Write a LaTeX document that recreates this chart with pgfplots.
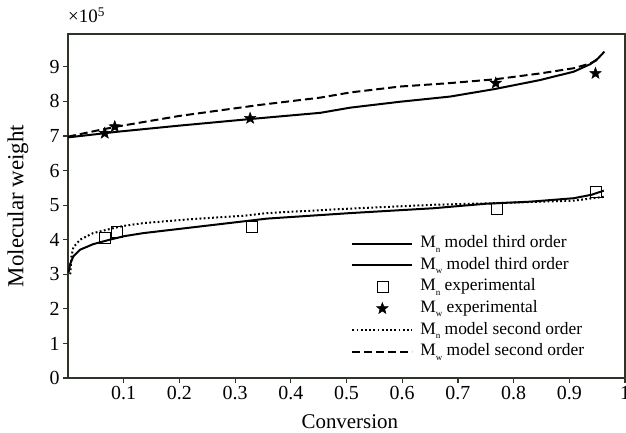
\documentclass[border=0pt]{standalone}
\usepackage{pgfplots}
\pgfplotsset{compat=1.18}
\usepackage{fontspec}
\setmainfont{Liberation Serif}
\definecolor{axc}{RGB}{45,52,40}
\newcommand{\sub}[1]{\raisebox{-0.55ex}{\fontsize{9}{9}\selectfont #1}}
\pgfplotsset{markleg/.style={legend image code/.code={\draw[##1] plot coordinates {(30bp,0bp)};}}}
\pgfdeclareplotmark{fstar}{%
  \pgfpathmoveto{\pgfpointpolar{90}{\pgfplotmarksize}}%
  \pgfpathlineto{\pgfpointpolar{126}{0.42\pgfplotmarksize}}%
  \pgfpathlineto{\pgfpointpolar{162}{\pgfplotmarksize}}%
  \pgfpathlineto{\pgfpointpolar{198}{0.42\pgfplotmarksize}}%
  \pgfpathlineto{\pgfpointpolar{234}{\pgfplotmarksize}}%
  \pgfpathlineto{\pgfpointpolar{270}{0.42\pgfplotmarksize}}%
  \pgfpathlineto{\pgfpointpolar{306}{\pgfplotmarksize}}%
  \pgfpathlineto{\pgfpointpolar{342}{0.42\pgfplotmarksize}}%
  \pgfpathlineto{\pgfpointpolar{18}{\pgfplotmarksize}}%
  \pgfpathlineto{\pgfpointpolar{54}{0.42\pgfplotmarksize}}%
  \pgfpathclose
  \pgfusepathqfillstroke}
\begin{document}
\begin{tikzpicture}
\begin{axis}[
  scale only axis, width=557bp, height=344bp,
  xmin=0, xmax=1, ymin=0, ymax=9.95,
  xtick={0.1,0.2,0.3,0.4,0.5,0.6,0.7,0.8,0.9,1},
  xticklabels={0.1,0.2,0.3,0.4,0.5,0.6,0.7,0.8,0.9,1},
  ytick={0,1,2,3,4,5,6,7,8,9},
  yticklabels={0,1,2,3,4,5,6,7,8,9},
  xtick pos=left, ytick pos=left,
  tick align=outside, major tick length=5bp,
  axis line style={axc, line width=1.6bp},
  every tick/.style={axc, line width=1.2bp},
  tick label style={font=\fontsize{20}{20}\selectfont},
  xlabel={Conversion}, ylabel={Molecular weight},
  xlabel style={font=\fontsize{21}{21}\selectfont, at={(axis description cs:0.506,-0.128)}, anchor=center},
  ylabel style={font=\fontsize{23}{23}\selectfont, at={(axis description cs:-0.09,0.5)}, anchor=center},
  legend cell align=left,
  legend style={draw=none, fill=none, at={(axis description cs:0.503,0.428)}, anchor=north west,
    font=\fontsize{17.5}{17.5}\selectfont, row sep=0pt,
    nodes={text height=12bp, text depth=4bp, inner ysep=2.8bp, inner xsep=3bp},
    /tikz/every odd column/.append style={column sep=4bp}},
  legend image code/.code={\draw[#1] plot coordinates {(0bp,0bp) (60bp,0bp)};},
]
% Mn model third order
\addplot[black, mark=none, solid, line width=2bp] coordinates {
(0.001,3.05) (0.004,3.3) (0.0096,3.52) (0.0216,3.71) (0.045,3.87) (0.075,4.0) (0.1,4.1)
(0.135,4.19) (0.225,4.36) (0.315,4.53) (0.357,4.61) (0.507,4.77) (0.656,4.91) (0.75,5.04)
(0.83,5.1) (0.908,5.2) (0.94,5.3) (0.962,5.42)};
\addlegendentry{M\sub{n} model third order}
% Mw model third order
\addplot[black, mark=none, solid, line width=2bp] coordinates {
(0,6.96) (0.05,7.05) (0.087,7.12) (0.2,7.3) (0.327,7.49) (0.453,7.67) (0.507,7.82)
(0.596,7.99) (0.686,8.14) (0.767,8.36) (0.848,8.62) (0.908,8.86) (0.938,9.08) (0.952,9.25) (0.963,9.44)};
\addlegendentry{M\sub{w} model third order}
% Mn experimental
\addplot[black, only marks, mark=square, mark size=5.5bp, line width=0.7bp, markleg] coordinates {
(0.066,4.05) (0.087,4.24) (0.33,4.36) (0.77,4.89) (0.948,5.39)};
\addlegendentry{M\sub{n} experimental}
% Mw experimental
\addplot[black, only marks, mark=fstar, mark size=6bp, line width=0.5bp, fill=black, markleg] coordinates {
(0.066,7.08) (0.084,7.27) (0.327,7.51) (0.768,8.53) (0.947,8.81)};
\addlegendentry{M\sub{w} experimental}
% Mn model second order
\addplot[black, mark=none, line width=2bp, dash pattern=on 1.8bp off 2.4bp] coordinates {
(0.004,3.0) (0.006,3.5) (0.0096,3.78) (0.0216,4.0) (0.045,4.19) (0.075,4.31) (0.1,4.4)
(0.135,4.48) (0.225,4.6) (0.315,4.69) (0.357,4.77) (0.507,4.9) (0.656,5.01) (0.75,5.05)
(0.83,5.09) (0.908,5.13) (0.962,5.24)};
\addlegendentry{M\sub{n} model second order}
% Mw model second order
\addplot[black, mark=none, line width=2bp, dash pattern=on 8bp off 4bp] coordinates {
(0,6.98) (0.05,7.15) (0.087,7.27) (0.2,7.58) (0.345,7.9) (0.453,8.11) (0.507,8.26)
(0.596,8.43) (0.686,8.53) (0.767,8.64) (0.848,8.81) (0.908,8.96) (0.938,9.1) (0.95,9.2)};
\addlegendentry{M\sub{w} model second order}
\end{axis}
\node[anchor=base west, inner sep=0pt, font=\fontsize{19}{19}\selectfont] at (0bp,355bp) {×10\textsuperscript{5}};
\pgfresetboundingbox
\useasboundingbox (-68bp,-55bp) rectangle (558bp,378bp);
\end{tikzpicture}
\end{document}
